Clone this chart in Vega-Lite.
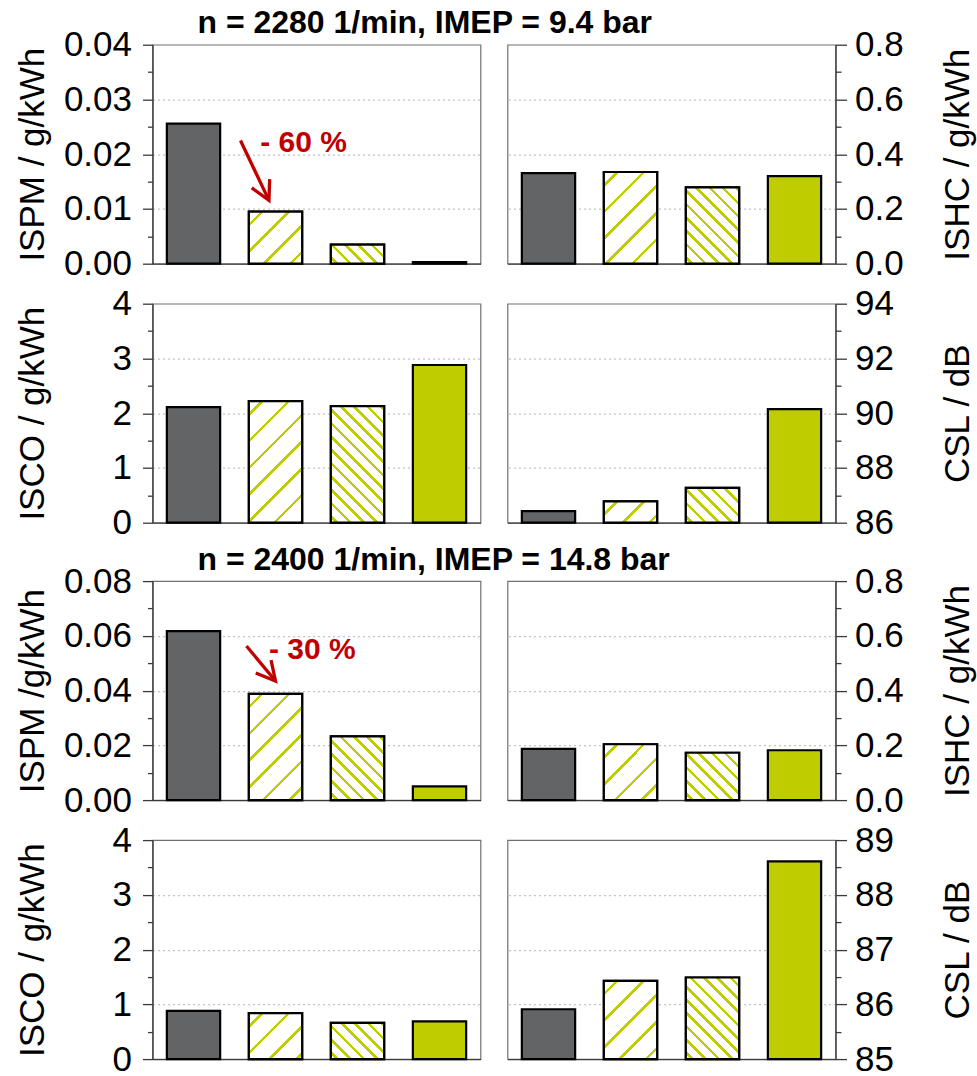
{
"$schema": "https://vega.github.io/schema/vega-lite/v6.json",
"background": "#ffffff",
"padding": {"left": 14.5, "top": 6.7, "right": 2, "bottom": 5},
"datasets": {
"bars": [
{"op":"2280","metric":"ISPM","variant":"A","value":0.0256},
{"op":"2280","metric":"ISPM","variant":"B","value":0.0095},
{"op":"2280","metric":"ISPM","variant":"C","value":0.0035},
{"op":"2280","metric":"ISPM","variant":"D","value":0.0003},
{"op":"2280","metric":"ISHC","variant":"A","value":0.331},
{"op":"2280","metric":"ISHC","variant":"B","value":0.335},
{"op":"2280","metric":"ISHC","variant":"C","value":0.279},
{"op":"2280","metric":"ISHC","variant":"D","value":0.320},
{"op":"2280","metric":"ISCO","variant":"A","value":2.11},
{"op":"2280","metric":"ISCO","variant":"B","value":2.22},
{"op":"2280","metric":"ISCO","variant":"C","value":2.13},
{"op":"2280","metric":"ISCO","variant":"D","value":2.88},
{"op":"2280","metric":"CSL","variant":"A","value":86.42},
{"op":"2280","metric":"CSL","variant":"B","value":86.78},
{"op":"2280","metric":"CSL","variant":"C","value":87.27},
{"op":"2280","metric":"CSL","variant":"D","value":90.15},
{"op":"2400","metric":"ISPM","variant":"A","value":0.0617},
{"op":"2400","metric":"ISPM","variant":"B","value":0.0388},
{"op":"2400","metric":"ISPM","variant":"C","value":0.0233},
{"op":"2400","metric":"ISPM","variant":"D","value":0.0050},
{"op":"2400","metric":"ISHC","variant":"A","value":0.187},
{"op":"2400","metric":"ISHC","variant":"B","value":0.204},
{"op":"2400","metric":"ISHC","variant":"C","value":0.173},
{"op":"2400","metric":"ISHC","variant":"D","value":0.182},
{"op":"2400","metric":"ISCO","variant":"A","value":0.88},
{"op":"2400","metric":"ISCO","variant":"B","value":0.84},
{"op":"2400","metric":"ISCO","variant":"C","value":0.66},
{"op":"2400","metric":"ISCO","variant":"D","value":0.69},
{"op":"2400","metric":"CSL","variant":"A","value":85.91},
{"op":"2400","metric":"CSL","variant":"B","value":86.43},
{"op":"2400","metric":"CSL","variant":"C","value":86.49},
{"op":"2400","metric":"CSL","variant":"D","value":88.61}
],
"notes": [
{"op":"2280","x0":1.073,"y0":0.0225,"x1":1.42,"y1":0.01156,"tx":1.313,"ty":0.0204,"label":"- 60 %"},
{"op":"2400","x0":1.146,"y0":0.0563,"x1":1.5,"y1":0.0435,"tx":1.42,"ty":0.0514,"label":"- 30 %"}
]
},
"data": {"name": "bars"},
"spacing": 1.4,
"vconcat": [
{
"spacing": 3,
"vconcat": [
{
"title": {"text": "n = 2280 1/min, IMEP = 9.4 bar", "anchor": "start", "frame": "group", "dx": 45, "offset": -38.4, "baseline": "alphabetic", "fontSize": 32, "fontWeight": "bold", "font": "Liberation Sans", "color": "#000"},
"spacing": 27,
"bounds": "flush",
"hconcat": [
{
"width": 328, "height": 219,
"resolve": {"scale": {"x": "independent"}, "axis": {"x": "independent", "y": "independent"}},
"layer": [
{
"transform": [{"filter": "datum.op=='2280' && datum.metric=='ISPM'"}],
"encoding": {
"x": {"field": "variant", "type": "nominal", "scale": {"domain": ["A","B","C","D"], "paddingInner": 0.35, "paddingOuter": 0.175}, "axis": {"labels": false, "ticks": false, "title": null, "grid": false}},
"y": {"field": "value", "type": "quantitative", "scale": {"domain": [0, 0.04], "nice": false}, "axis": {"orient": "left", "title": "ISPM / g/kWh", "values": [0,0.005,0.01,0.015,0.02,0.025,0.03,0.035,0.04], "labelExpr": "abs(datum.value/0.01-round(datum.value/0.01))<0.01 ? format(datum.value,'.2f') : ''", "tickSize": {"condition": {"test": "abs(datum.value/0.01-round(datum.value/0.01))<0.01", "value": 10}, "value": 5}, "gridOpacity": {"condition": {"test": "abs(datum.value/0.01-round(datum.value/0.01))<0.01 && datum.value>0.001 && datum.value<0.039", "value": 1}, "value": 0}, "labelPadding": 11, "titleX": -108.6, "titleY": 109.5, "titleBaseline": "alphabetic", "titleAlign": "center", "titleAngle": 270}}
},
"layer": [
{"mark": {"type": "bar", "stroke": "#000", "strokeWidth": 2.2}, "encoding": {"fill": {"field": "variant", "type": "nominal", "scale": {"domain": ["A","B","C","D"], "range": ["#636466","#ffffff","#ffffff","#bfcc00"]}, "legend": null}}},
{"transform": [{"filter": "datum.variant=='B'"}], "mark": {"type": "bar", "stroke": "#000", "strokeWidth": 2.2, "fill": {"gradient": "linear", "x1": 0, "y1": 0, "x2": 1.012, "y2": 0.9875, "stops": [
{"offset":0.109,"color":"#fff"},{"offset":0.109,"color":"#bfcc00"},{"offset":0.144,"color":"#bfcc00"},{"offset":0.144,"color":"#fff"},
{"offset":0.363,"color":"#fff"},{"offset":0.363,"color":"#bfcc00"},{"offset":0.398,"color":"#bfcc00"},{"offset":0.398,"color":"#fff"},
{"offset":0.617,"color":"#fff"},{"offset":0.617,"color":"#bfcc00"},{"offset":0.652,"color":"#bfcc00"},{"offset":0.652,"color":"#fff"},
{"offset":0.871,"color":"#fff"},{"offset":0.871,"color":"#bfcc00"},{"offset":0.906,"color":"#bfcc00"},{"offset":0.906,"color":"#fff"}]}}},
{"transform": [{"filter": "datum.variant=='C'"}], "mark": {"type": "bar", "stroke": "#000", "strokeWidth": 2.2, "fill": {"gradient": "linear", "x1": 0, "y1": 1, "x2": 1.204, "y2": 0.566, "stops": [
{"offset":0.066,"color":"#fff"},{"offset":0.066,"color":"#bfcc00"},{"offset":0.117,"color":"#bfcc00"},{"offset":0.117,"color":"#fff"},
{"offset":0.250,"color":"#fff"},{"offset":0.250,"color":"#bfcc00"},{"offset":0.300,"color":"#bfcc00"},{"offset":0.300,"color":"#fff"},
{"offset":0.433,"color":"#fff"},{"offset":0.433,"color":"#bfcc00"},{"offset":0.483,"color":"#bfcc00"},{"offset":0.483,"color":"#fff"},
{"offset":0.617,"color":"#fff"},{"offset":0.617,"color":"#bfcc00"},{"offset":0.667,"color":"#bfcc00"},{"offset":0.667,"color":"#fff"},
{"offset":0.800,"color":"#fff"},{"offset":0.800,"color":"#bfcc00"},{"offset":0.850,"color":"#bfcc00"},{"offset":0.850,"color":"#fff"},
{"offset":0.983,"color":"#fff"},{"offset":0.983,"color":"#bfcc00"},{"offset":1,"color":"#bfcc00"}]}}}
]
},
{
"data": {"name": "notes"},
"transform": [{"filter": "datum.op=='2280'"}],
"layer": [
{"mark": {"type": "rule", "color": "#c00000", "strokeWidth": 3.3}, "encoding": {"x": {"field": "x0", "type": "quantitative", "scale": {"domain": [0, 4], "nice": false}, "axis": null}, "x2": {"field": "x1"}, "y": {"field": "y0", "type": "quantitative", "scale": {"domain": [0, 0.04], "nice": false}, "axis": null}, "y2": {"field": "y1"}}},
{"mark": {"type": "point", "shape": "M -0.53 1 L 0 0 L 0.53 1", "filled": false, "color": "#c00000", "strokeWidth": 3.3, "size": 1414, "angle": 154, "opacity": 1, "strokeJoin": "miter"}, "encoding": {"x": {"field": "x1", "type": "quantitative", "scale": {"domain": [0, 4], "nice": false}, "axis": null}, "y": {"field": "y1", "type": "quantitative", "scale": {"domain": [0, 0.04], "nice": false}, "axis": null}}},
{"mark": {"type": "text", "color": "#c00000", "fontSize": 30, "fontWeight": "bold", "font": "Liberation Sans", "align": "left", "baseline": "alphabetic"}, "encoding": {"x": {"field": "tx", "type": "quantitative", "scale": {"domain": [0, 4], "nice": false}, "axis": null}, "y": {"field": "ty", "type": "quantitative", "scale": {"domain": [0, 0.04], "nice": false}, "axis": null}, "text": {"field": "label"}}}
]
}
]
},
{
"width": 328, "height": 219,
"transform": [{"filter": "datum.op=='2280' && datum.metric=='ISHC'"}],
"encoding": {
"x": {"field": "variant", "type": "nominal", "scale": {"domain": ["A","B","C","D"], "paddingInner": 0.35, "paddingOuter": 0.175}, "axis": {"labels": false, "ticks": false, "title": null, "grid": false}},
"y": {"field": "value", "type": "quantitative", "scale": {"domain": [0, 0.8], "nice": false}, "axis": {"orient": "right", "title": "ISHC / g/kWh", "values": [0,0.1,0.2,0.3,0.4,0.5,0.6,0.7,0.8], "labelExpr": "abs(datum.value/0.2-round(datum.value/0.2))<0.01 ? format(datum.value,'.1f') : ''", "tickSize": {"condition": {"test": "abs(datum.value/0.2-round(datum.value/0.2))<0.01", "value": 11}, "value": 5.5}, "gridOpacity": {"condition": {"test": "abs(datum.value/0.2-round(datum.value/0.2))<0.01 && datum.value>0.05 && datum.value<0.75", "value": 1}, "value": 0}, "labelPadding": 8, "titleX": 132.7, "titleY": 109.5, "titleBaseline": "alphabetic", "titleAlign": "center", "titleAngle": 270}}
},
"layer": [
{"mark": {"type": "bar", "stroke": "#000", "strokeWidth": 2.2}, "encoding": {"fill": {"field": "variant", "type": "nominal", "scale": {"domain": ["A","B","C","D"], "range": ["#636466","#ffffff","#ffffff","#bfcc00"]}, "legend": null}}},
{"transform": [{"filter": "datum.variant=='B'"}], "mark": {"type": "bar", "stroke": "#000", "strokeWidth": 2.2, "fill": {"gradient": "linear", "x1": 0, "y1": 0, "x2": 0.687, "y2": 1.182, "stops": [
{"offset":0.079,"color":"#fff"},{"offset":0.079,"color":"#bfcc00"},{"offset":0.105,"color":"#bfcc00"},{"offset":0.105,"color":"#fff"},
{"offset":0.264,"color":"#fff"},{"offset":0.264,"color":"#bfcc00"},{"offset":0.289,"color":"#bfcc00"},{"offset":0.289,"color":"#fff"},
{"offset":0.448,"color":"#fff"},{"offset":0.448,"color":"#bfcc00"},{"offset":0.473,"color":"#bfcc00"},{"offset":0.473,"color":"#fff"},
{"offset":0.632,"color":"#fff"},{"offset":0.632,"color":"#bfcc00"},{"offset":0.658,"color":"#bfcc00"},{"offset":0.658,"color":"#fff"},
{"offset":0.817,"color":"#fff"},{"offset":0.817,"color":"#bfcc00"},{"offset":0.842,"color":"#bfcc00"},{"offset":0.842,"color":"#fff"}]}}},
{"transform": [{"filter": "datum.variant=='C'"}], "mark": {"type": "bar", "stroke": "#000", "strokeWidth": 2.2, "fill": {"gradient": "linear", "x1": 0, "y1": 1, "x2": 0.797, "y2": -0.142, "stops": [
{"offset":0.037,"color":"#fff"},{"offset":0.037,"color":"#bfcc00"},{"offset":0.065,"color":"#bfcc00"},{"offset":0.065,"color":"#fff"},
{"offset":0.140,"color":"#fff"},{"offset":0.140,"color":"#bfcc00"},{"offset":0.168,"color":"#bfcc00"},{"offset":0.168,"color":"#fff"},
{"offset":0.242,"color":"#fff"},{"offset":0.242,"color":"#bfcc00"},{"offset":0.270,"color":"#bfcc00"},{"offset":0.270,"color":"#fff"},
{"offset":0.345,"color":"#fff"},{"offset":0.345,"color":"#bfcc00"},{"offset":0.373,"color":"#bfcc00"},{"offset":0.373,"color":"#fff"},
{"offset":0.447,"color":"#fff"},{"offset":0.447,"color":"#bfcc00"},{"offset":0.475,"color":"#bfcc00"},{"offset":0.475,"color":"#fff"},
{"offset":0.550,"color":"#fff"},{"offset":0.550,"color":"#bfcc00"},{"offset":0.578,"color":"#bfcc00"},{"offset":0.578,"color":"#fff"},
{"offset":0.652,"color":"#fff"},{"offset":0.652,"color":"#bfcc00"},{"offset":0.680,"color":"#bfcc00"},{"offset":0.680,"color":"#fff"},
{"offset":0.755,"color":"#fff"},{"offset":0.755,"color":"#bfcc00"},{"offset":0.783,"color":"#bfcc00"},{"offset":0.783,"color":"#fff"},
{"offset":0.857,"color":"#fff"},{"offset":0.857,"color":"#bfcc00"},{"offset":0.885,"color":"#bfcc00"},{"offset":0.885,"color":"#fff"},
{"offset":0.960,"color":"#fff"},{"offset":0.960,"color":"#bfcc00"},{"offset":0.988,"color":"#bfcc00"},{"offset":0.988,"color":"#fff"}]}}}
]
}
]
},
{
"spacing": 27,
"bounds": "flush",
"hconcat": [
{
"width": 328, "height": 219,
"transform": [{"filter": "datum.op=='2280' && datum.metric=='ISCO'"}],
"encoding": {
"x": {"field": "variant", "type": "nominal", "scale": {"domain": ["A","B","C","D"], "paddingInner": 0.35, "paddingOuter": 0.175}, "axis": {"labels": false, "ticks": false, "title": null, "grid": false}},
"y": {"field": "value", "type": "quantitative", "scale": {"domain": [0, 4], "nice": false}, "axis": {"orient": "left", "title": "ISCO / g/kWh", "values": [0,0.5,1,1.5,2,2.5,3,3.5,4], "labelExpr": "abs(datum.value-round(datum.value))<0.01 ? format(datum.value,'.0f') : ''", "tickSize": {"condition": {"test": "abs(datum.value-round(datum.value))<0.01", "value": 10}, "value": 5}, "gridOpacity": {"condition": {"test": "abs(datum.value-round(datum.value))<0.01 && datum.value>0.1 && datum.value<3.9", "value": 1}, "value": 0}, "labelPadding": 11, "titleX": -108.6, "titleY": 109.5, "titleBaseline": "alphabetic", "titleAlign": "center", "titleAngle": 270}}
},
"layer": [
{"mark": {"type": "bar", "stroke": "#000", "strokeWidth": 2.2}, "encoding": {"fill": {"field": "variant", "type": "nominal", "scale": {"domain": ["A","B","C","D"], "range": ["#636466","#ffffff","#ffffff","#bfcc00"]}, "legend": null}}},
{"transform": [{"filter": "datum.variant=='B'"}], "mark": {"type": "bar", "stroke": "#000", "strokeWidth": 2.2, "fill": {"gradient": "linear", "x1": 0, "y1": 0, "x2": 0.529, "y2": 1.2065, "stops": [
{"offset":0.066,"color":"#fff"},{"offset":0.066,"color":"#bfcc00"},{"offset":0.087,"color":"#bfcc00"},{"offset":0.087,"color":"#fff"},
{"offset":0.219,"color":"#fff"},{"offset":0.219,"color":"#bfcc00"},{"offset":0.240,"color":"#bfcc00"},{"offset":0.240,"color":"#fff"},
{"offset":0.372,"color":"#fff"},{"offset":0.372,"color":"#bfcc00"},{"offset":0.393,"color":"#bfcc00"},{"offset":0.393,"color":"#fff"},
{"offset":0.525,"color":"#fff"},{"offset":0.525,"color":"#bfcc00"},{"offset":0.546,"color":"#bfcc00"},{"offset":0.546,"color":"#fff"},
{"offset":0.678,"color":"#fff"},{"offset":0.678,"color":"#bfcc00"},{"offset":0.699,"color":"#bfcc00"},{"offset":0.699,"color":"#fff"},
{"offset":0.830,"color":"#fff"},{"offset":0.830,"color":"#bfcc00"},{"offset":0.851,"color":"#bfcc00"},{"offset":0.851,"color":"#fff"},
{"offset":0.983,"color":"#fff"},{"offset":0.983,"color":"#bfcc00"},{"offset":1,"color":"#bfcc00"}]}}},
{"transform": [{"filter": "datum.variant=='C'"}], "mark": {"type": "bar", "stroke": "#000", "strokeWidth": 2.2, "fill": {"gradient": "linear", "x1": 0, "y1": 1, "x2": 0.551, "y2": -0.2052, "stops": [
{"offset":0.028,"color":"#fff"},{"offset":0.028,"color":"#bfcc00"},{"offset":0.050,"color":"#bfcc00"},{"offset":0.050,"color":"#fff"},
{"offset":0.107,"color":"#fff"},{"offset":0.107,"color":"#bfcc00"},{"offset":0.128,"color":"#bfcc00"},{"offset":0.128,"color":"#fff"},
{"offset":0.185,"color":"#fff"},{"offset":0.185,"color":"#bfcc00"},{"offset":0.206,"color":"#bfcc00"},{"offset":0.206,"color":"#fff"},
{"offset":0.263,"color":"#fff"},{"offset":0.263,"color":"#bfcc00"},{"offset":0.285,"color":"#bfcc00"},{"offset":0.285,"color":"#fff"},
{"offset":0.341,"color":"#fff"},{"offset":0.341,"color":"#bfcc00"},{"offset":0.363,"color":"#bfcc00"},{"offset":0.363,"color":"#fff"},
{"offset":0.420,"color":"#fff"},{"offset":0.420,"color":"#bfcc00"},{"offset":0.441,"color":"#bfcc00"},{"offset":0.441,"color":"#fff"},
{"offset":0.498,"color":"#fff"},{"offset":0.498,"color":"#bfcc00"},{"offset":0.519,"color":"#bfcc00"},{"offset":0.519,"color":"#fff"},
{"offset":0.576,"color":"#fff"},{"offset":0.576,"color":"#bfcc00"},{"offset":0.598,"color":"#bfcc00"},{"offset":0.598,"color":"#fff"},
{"offset":0.654,"color":"#fff"},{"offset":0.654,"color":"#bfcc00"},{"offset":0.676,"color":"#bfcc00"},{"offset":0.676,"color":"#fff"},
{"offset":0.732,"color":"#fff"},{"offset":0.732,"color":"#bfcc00"},{"offset":0.754,"color":"#bfcc00"},{"offset":0.754,"color":"#fff"},
{"offset":0.811,"color":"#fff"},{"offset":0.811,"color":"#bfcc00"},{"offset":0.832,"color":"#bfcc00"},{"offset":0.832,"color":"#fff"},
{"offset":0.889,"color":"#fff"},{"offset":0.889,"color":"#bfcc00"},{"offset":0.911,"color":"#bfcc00"},{"offset":0.911,"color":"#fff"},
{"offset":0.967,"color":"#fff"},{"offset":0.967,"color":"#bfcc00"},{"offset":0.989,"color":"#bfcc00"},{"offset":0.989,"color":"#fff"}]}}}
]
},
{
"width": 328, "height": 219,
"transform": [{"filter": "datum.op=='2280' && datum.metric=='CSL'"}],
"encoding": {
"x": {"field": "variant", "type": "nominal", "scale": {"domain": ["A","B","C","D"], "paddingInner": 0.35, "paddingOuter": 0.175}, "axis": {"labels": false, "ticks": false, "title": null, "grid": false}},
"y": {"field": "value", "type": "quantitative", "scale": {"domain": [86, 94], "nice": false, "zero": false}, "axis": {"orient": "right", "title": "CSL / dB", "values": [86,87,88,89,90,91,92,93,94], "labelExpr": "abs(datum.value/2-round(datum.value/2))<0.01 ? format(datum.value,'.0f') : ''", "tickSize": {"condition": {"test": "abs(datum.value/2-round(datum.value/2))<0.01", "value": 11}, "value": 5.5}, "gridOpacity": {"condition": {"test": "abs(datum.value/2-round(datum.value/2))<0.01 && datum.value>86.5 && datum.value<93.5", "value": 1}, "value": 0}, "labelPadding": 8, "titleX": 132.7, "titleY": 109.5, "titleBaseline": "alphabetic", "titleAlign": "center", "titleAngle": 270}},
"y2": {"datum": 86}
},
"layer": [
{"mark": {"type": "bar", "stroke": "#000", "strokeWidth": 2.2}, "encoding": {"fill": {"field": "variant", "type": "nominal", "scale": {"domain": ["A","B","C","D"], "range": ["#636466","#ffffff","#ffffff","#bfcc00"]}, "legend": null}}},
{"transform": [{"filter": "datum.variant=='B'"}], "mark": {"type": "bar", "stroke": "#000", "strokeWidth": 2.2, "fill": {"gradient": "linear", "x1": 0, "y1": 0, "x2": 1.207, "y2": 0.4846, "stops": [
{"offset":0.154,"color":"#fff"},{"offset":0.154,"color":"#bfcc00"},{"offset":0.204,"color":"#bfcc00"},{"offset":0.204,"color":"#fff"},
{"offset":0.512,"color":"#fff"},{"offset":0.512,"color":"#bfcc00"},{"offset":0.561,"color":"#bfcc00"},{"offset":0.561,"color":"#fff"},
{"offset":0.870,"color":"#fff"},{"offset":0.870,"color":"#bfcc00"},{"offset":0.919,"color":"#bfcc00"},{"offset":0.919,"color":"#fff"}]}}},
{"transform": [{"filter": "datum.variant=='C'"}], "mark": {"type": "bar", "stroke": "#000", "strokeWidth": 2.2, "fill": {"gradient": "linear", "x1": 0, "y1": 1, "x2": 1.159, "y2": 0.2433, "stops": [
{"offset":0.055,"color":"#fff"},{"offset":0.055,"color":"#bfcc00"},{"offset":0.096,"color":"#bfcc00"},{"offset":0.096,"color":"#fff"},
{"offset":0.205,"color":"#fff"},{"offset":0.205,"color":"#bfcc00"},{"offset":0.247,"color":"#bfcc00"},{"offset":0.247,"color":"#fff"},
{"offset":0.356,"color":"#fff"},{"offset":0.356,"color":"#bfcc00"},{"offset":0.398,"color":"#bfcc00"},{"offset":0.398,"color":"#fff"},
{"offset":0.507,"color":"#fff"},{"offset":0.507,"color":"#bfcc00"},{"offset":0.549,"color":"#bfcc00"},{"offset":0.549,"color":"#fff"},
{"offset":0.658,"color":"#fff"},{"offset":0.658,"color":"#bfcc00"},{"offset":0.700,"color":"#bfcc00"},{"offset":0.700,"color":"#fff"},
{"offset":0.809,"color":"#fff"},{"offset":0.809,"color":"#bfcc00"},{"offset":0.851,"color":"#bfcc00"},{"offset":0.851,"color":"#fff"},
{"offset":0.960,"color":"#fff"},{"offset":0.960,"color":"#bfcc00"},{"offset":1,"color":"#bfcc00"}]}}}
]
}
]
}
]
},
{
"spacing": 3,
"vconcat": [
{
"title": {"text": "n = 2400 1/min, IMEP = 14.8 bar", "anchor": "start", "frame": "group", "dx": 45, "offset": -38.4, "baseline": "alphabetic", "fontSize": 32, "fontWeight": "bold", "font": "Liberation Sans", "color": "#000"},
"spacing": 27,
"bounds": "flush",
"hconcat": [
{
"width": 328, "height": 219,
"resolve": {"scale": {"x": "independent"}, "axis": {"x": "independent", "y": "independent"}},
"layer": [
{
"transform": [{"filter": "datum.op=='2400' && datum.metric=='ISPM'"}],
"encoding": {
"x": {"field": "variant", "type": "nominal", "scale": {"domain": ["A","B","C","D"], "paddingInner": 0.35, "paddingOuter": 0.175}, "axis": {"labels": false, "ticks": false, "title": null, "grid": false}},
"y": {"field": "value", "type": "quantitative", "scale": {"domain": [0, 0.08], "nice": false}, "axis": {"orient": "left", "title": "ISPM /g/kWh", "values": [0,0.01,0.02,0.03,0.04,0.05,0.06,0.07,0.08], "labelExpr": "abs(datum.value/0.02-round(datum.value/0.02))<0.01 ? format(datum.value,'.2f') : ''", "tickSize": {"condition": {"test": "abs(datum.value/0.02-round(datum.value/0.02))<0.01", "value": 10}, "value": 5}, "gridOpacity": {"condition": {"test": "abs(datum.value/0.02-round(datum.value/0.02))<0.01 && datum.value>0.005 && datum.value<0.075", "value": 1}, "value": 0}, "labelPadding": 11, "titleX": -108.6, "titleY": 109.5, "titleBaseline": "alphabetic", "titleAlign": "center", "titleAngle": 270}}
},
"layer": [
{"mark": {"type": "bar", "stroke": "#000", "strokeWidth": 2.2}, "encoding": {"fill": {"field": "variant", "type": "nominal", "scale": {"domain": ["A","B","C","D"], "range": ["#636466","#ffffff","#ffffff","#bfcc00"]}, "legend": null}}},
{"transform": [{"filter": "datum.variant=='B'"}], "mark": {"type": "bar", "stroke": "#000", "strokeWidth": 2.2, "fill": {"gradient": "linear", "x1": 0, "y1": 0, "x2": 0.602, "y2": 1.1997, "stops": [
{"offset":0.072,"color":"#fff"},{"offset":0.072,"color":"#bfcc00"},{"offset":0.095,"color":"#bfcc00"},{"offset":0.095,"color":"#fff"},
{"offset":0.240,"color":"#fff"},{"offset":0.240,"color":"#bfcc00"},{"offset":0.263,"color":"#bfcc00"},{"offset":0.263,"color":"#fff"},
{"offset":0.407,"color":"#fff"},{"offset":0.407,"color":"#bfcc00"},{"offset":0.430,"color":"#bfcc00"},{"offset":0.430,"color":"#fff"},
{"offset":0.575,"color":"#fff"},{"offset":0.575,"color":"#bfcc00"},{"offset":0.598,"color":"#bfcc00"},{"offset":0.598,"color":"#fff"},
{"offset":0.743,"color":"#fff"},{"offset":0.743,"color":"#bfcc00"},{"offset":0.766,"color":"#bfcc00"},{"offset":0.766,"color":"#fff"},
{"offset":0.910,"color":"#fff"},{"offset":0.910,"color":"#bfcc00"},{"offset":0.933,"color":"#bfcc00"},{"offset":0.933,"color":"#fff"}]}}},
{"transform": [{"filter": "datum.variant=='C'"}], "mark": {"type": "bar", "stroke": "#000", "strokeWidth": 2.2, "fill": {"gradient": "linear", "x1": 0, "y1": 1, "x2": 0.903, "y2": -0.081, "stops": [
{"offset":0.041,"color":"#fff"},{"offset":0.041,"color":"#bfcc00"},{"offset":0.072,"color":"#bfcc00"},{"offset":0.072,"color":"#fff"},
{"offset":0.155,"color":"#fff"},{"offset":0.155,"color":"#bfcc00"},{"offset":0.186,"color":"#bfcc00"},{"offset":0.186,"color":"#fff"},
{"offset":0.268,"color":"#fff"},{"offset":0.268,"color":"#bfcc00"},{"offset":0.300,"color":"#bfcc00"},{"offset":0.300,"color":"#fff"},
{"offset":0.382,"color":"#fff"},{"offset":0.382,"color":"#bfcc00"},{"offset":0.413,"color":"#bfcc00"},{"offset":0.413,"color":"#fff"},
{"offset":0.495,"color":"#fff"},{"offset":0.495,"color":"#bfcc00"},{"offset":0.527,"color":"#bfcc00"},{"offset":0.527,"color":"#fff"},
{"offset":0.609,"color":"#fff"},{"offset":0.609,"color":"#bfcc00"},{"offset":0.640,"color":"#bfcc00"},{"offset":0.640,"color":"#fff"},
{"offset":0.722,"color":"#fff"},{"offset":0.722,"color":"#bfcc00"},{"offset":0.754,"color":"#bfcc00"},{"offset":0.754,"color":"#fff"},
{"offset":0.836,"color":"#fff"},{"offset":0.836,"color":"#bfcc00"},{"offset":0.867,"color":"#bfcc00"},{"offset":0.867,"color":"#fff"},
{"offset":0.949,"color":"#fff"},{"offset":0.949,"color":"#bfcc00"},{"offset":0.981,"color":"#bfcc00"},{"offset":0.981,"color":"#fff"}]}}}
]
},
{
"data": {"name": "notes"},
"transform": [{"filter": "datum.op=='2400'"}],
"layer": [
{"mark": {"type": "rule", "color": "#c00000", "strokeWidth": 3.3}, "encoding": {"x": {"field": "x0", "type": "quantitative", "scale": {"domain": [0, 4], "nice": false}, "axis": null}, "x2": {"field": "x1"}, "y": {"field": "y0", "type": "quantitative", "scale": {"domain": [0, 0.08], "nice": false}, "axis": null}, "y2": {"field": "y1"}}},
{"mark": {"type": "point", "shape": "M -0.53 1 L 0 0 L 0.53 1", "filled": false, "color": "#c00000", "strokeWidth": 3.3, "size": 1414, "angle": 140, "opacity": 1, "strokeJoin": "miter"}, "encoding": {"x": {"field": "x1", "type": "quantitative", "scale": {"domain": [0, 4], "nice": false}, "axis": null}, "y": {"field": "y1", "type": "quantitative", "scale": {"domain": [0, 0.08], "nice": false}, "axis": null}}},
{"mark": {"type": "text", "color": "#c00000", "fontSize": 30, "fontWeight": "bold", "font": "Liberation Sans", "align": "left", "baseline": "alphabetic"}, "encoding": {"x": {"field": "tx", "type": "quantitative", "scale": {"domain": [0, 4], "nice": false}, "axis": null}, "y": {"field": "ty", "type": "quantitative", "scale": {"domain": [0, 0.08], "nice": false}, "axis": null}, "text": {"field": "label"}}}
]
}
]
},
{
"width": 328, "height": 219,
"transform": [{"filter": "datum.op=='2400' && datum.metric=='ISHC'"}],
"encoding": {
"x": {"field": "variant", "type": "nominal", "scale": {"domain": ["A","B","C","D"], "paddingInner": 0.35, "paddingOuter": 0.175}, "axis": {"labels": false, "ticks": false, "title": null, "grid": false}},
"y": {"field": "value", "type": "quantitative", "scale": {"domain": [0, 0.8], "nice": false}, "axis": {"orient": "right", "title": "ISHC / g/kWh", "values": [0,0.1,0.2,0.3,0.4,0.5,0.6,0.7,0.8], "labelExpr": "abs(datum.value/0.2-round(datum.value/0.2))<0.01 ? format(datum.value,'.1f') : ''", "tickSize": {"condition": {"test": "abs(datum.value/0.2-round(datum.value/0.2))<0.01", "value": 11}, "value": 5.5}, "gridOpacity": {"condition": {"test": "abs(datum.value/0.2-round(datum.value/0.2))<0.01 && datum.value>0.05 && datum.value<0.75", "value": 1}, "value": 0}, "labelPadding": 8, "titleX": 132.7, "titleY": 109.5, "titleBaseline": "alphabetic", "titleAlign": "center", "titleAngle": 270}}
},
"layer": [
{"mark": {"type": "bar", "stroke": "#000", "strokeWidth": 2.2}, "encoding": {"fill": {"field": "variant", "type": "nominal", "scale": {"domain": ["A","B","C","D"], "range": ["#636466","#ffffff","#ffffff","#bfcc00"]}, "legend": null}}},
{"transform": [{"filter": "datum.variant=='B'"}], "mark": {"type": "bar", "stroke": "#000", "strokeWidth": 2.2, "fill": {"gradient": "linear", "x1": 0, "y1": 0, "x2": 0.977, "y2": 1.0224, "stops": [
{"offset":0.106,"color":"#fff"},{"offset":0.106,"color":"#bfcc00"},{"offset":0.139,"color":"#bfcc00"},{"offset":0.139,"color":"#fff"},
{"offset":0.351,"color":"#fff"},{"offset":0.351,"color":"#bfcc00"},{"offset":0.384,"color":"#bfcc00"},{"offset":0.384,"color":"#fff"},
{"offset":0.596,"color":"#fff"},{"offset":0.596,"color":"#bfcc00"},{"offset":0.629,"color":"#bfcc00"},{"offset":0.629,"color":"#fff"},
{"offset":0.841,"color":"#fff"},{"offset":0.841,"color":"#bfcc00"},{"offset":0.874,"color":"#bfcc00"},{"offset":0.874,"color":"#fff"}]}}},
{"transform": [{"filter": "datum.variant=='C'"}], "mark": {"type": "bar", "stroke": "#000", "strokeWidth": 2.2, "fill": {"gradient": "linear", "x1": 0, "y1": 1, "x2": 1.055, "y2": 0.0618, "stops": [
{"offset":0.048,"color":"#fff"},{"offset":0.048,"color":"#bfcc00"},{"offset":0.084,"color":"#bfcc00"},{"offset":0.084,"color":"#fff"},
{"offset":0.180,"color":"#fff"},{"offset":0.180,"color":"#bfcc00"},{"offset":0.216,"color":"#bfcc00"},{"offset":0.216,"color":"#fff"},
{"offset":0.312,"color":"#fff"},{"offset":0.312,"color":"#bfcc00"},{"offset":0.348,"color":"#bfcc00"},{"offset":0.348,"color":"#fff"},
{"offset":0.444,"color":"#fff"},{"offset":0.444,"color":"#bfcc00"},{"offset":0.480,"color":"#bfcc00"},{"offset":0.480,"color":"#fff"},
{"offset":0.576,"color":"#fff"},{"offset":0.576,"color":"#bfcc00"},{"offset":0.612,"color":"#bfcc00"},{"offset":0.612,"color":"#fff"},
{"offset":0.708,"color":"#fff"},{"offset":0.708,"color":"#bfcc00"},{"offset":0.744,"color":"#bfcc00"},{"offset":0.744,"color":"#fff"},
{"offset":0.840,"color":"#fff"},{"offset":0.840,"color":"#bfcc00"},{"offset":0.876,"color":"#bfcc00"},{"offset":0.876,"color":"#fff"},
{"offset":0.972,"color":"#fff"},{"offset":0.972,"color":"#bfcc00"},{"offset":1,"color":"#bfcc00"}]}}}
]
}
]
},
{
"spacing": 27,
"bounds": "flush",
"hconcat": [
{
"width": 328, "height": 219,
"transform": [{"filter": "datum.op=='2400' && datum.metric=='ISCO'"}],
"encoding": {
"x": {"field": "variant", "type": "nominal", "scale": {"domain": ["A","B","C","D"], "paddingInner": 0.35, "paddingOuter": 0.175}, "axis": {"labels": false, "ticks": false, "title": null, "grid": false}},
"y": {"field": "value", "type": "quantitative", "scale": {"domain": [0, 4], "nice": false}, "axis": {"orient": "left", "title": "ISCO / g/kWh", "values": [0,0.5,1,1.5,2,2.5,3,3.5,4], "labelExpr": "abs(datum.value-round(datum.value))<0.01 ? format(datum.value,'.0f') : ''", "tickSize": {"condition": {"test": "abs(datum.value-round(datum.value))<0.01", "value": 10}, "value": 5}, "gridOpacity": {"condition": {"test": "abs(datum.value-round(datum.value))<0.01 && datum.value>0.1 && datum.value<3.9", "value": 1}, "value": 0}, "labelPadding": 11, "titleX": -108.6, "titleY": 109.5, "titleBaseline": "alphabetic", "titleAlign": "center", "titleAngle": 270}}
},
"layer": [
{"mark": {"type": "bar", "stroke": "#000", "strokeWidth": 2.2}, "encoding": {"fill": {"field": "variant", "type": "nominal", "scale": {"domain": ["A","B","C","D"], "range": ["#636466","#ffffff","#ffffff","#bfcc00"]}, "legend": null}}},
{"transform": [{"filter": "datum.variant=='B'"}], "mark": {"type": "bar", "stroke": "#000", "strokeWidth": 2.2, "fill": {"gradient": "linear", "x1": 0, "y1": 0, "x2": 1.068, "y2": 0.9215, "stops": [
{"offset":0.116,"color":"#fff"},{"offset":0.116,"color":"#bfcc00"},{"offset":0.153,"color":"#bfcc00"},{"offset":0.153,"color":"#fff"},
{"offset":0.385,"color":"#fff"},{"offset":0.385,"color":"#bfcc00"},{"offset":0.422,"color":"#bfcc00"},{"offset":0.422,"color":"#fff"},
{"offset":0.654,"color":"#fff"},{"offset":0.654,"color":"#bfcc00"},{"offset":0.691,"color":"#bfcc00"},{"offset":0.691,"color":"#fff"},
{"offset":0.924,"color":"#fff"},{"offset":0.924,"color":"#bfcc00"},{"offset":0.961,"color":"#bfcc00"},{"offset":0.961,"color":"#fff"}]}}},
{"transform": [{"filter": "datum.variant=='C'"}], "mark": {"type": "bar", "stroke": "#000", "strokeWidth": 2.2, "fill": {"gradient": "linear", "x1": 0, "y1": 1, "x2": 1.150, "y2": 0.2212, "stops": [
{"offset":0.054,"color":"#fff"},{"offset":0.054,"color":"#bfcc00"},{"offset":0.095,"color":"#bfcc00"},{"offset":0.095,"color":"#fff"},
{"offset":0.202,"color":"#fff"},{"offset":0.202,"color":"#bfcc00"},{"offset":0.244,"color":"#bfcc00"},{"offset":0.244,"color":"#fff"},
{"offset":0.351,"color":"#fff"},{"offset":0.351,"color":"#bfcc00"},{"offset":0.392,"color":"#bfcc00"},{"offset":0.392,"color":"#fff"},
{"offset":0.500,"color":"#fff"},{"offset":0.500,"color":"#bfcc00"},{"offset":0.541,"color":"#bfcc00"},{"offset":0.541,"color":"#fff"},
{"offset":0.649,"color":"#fff"},{"offset":0.649,"color":"#bfcc00"},{"offset":0.690,"color":"#bfcc00"},{"offset":0.690,"color":"#fff"},
{"offset":0.797,"color":"#fff"},{"offset":0.797,"color":"#bfcc00"},{"offset":0.838,"color":"#bfcc00"},{"offset":0.838,"color":"#fff"},
{"offset":0.946,"color":"#fff"},{"offset":0.946,"color":"#bfcc00"},{"offset":0.987,"color":"#bfcc00"},{"offset":0.987,"color":"#fff"}]}}}
]
},
{
"width": 328, "height": 219,
"transform": [{"filter": "datum.op=='2400' && datum.metric=='CSL'"}],
"encoding": {
"x": {"field": "variant", "type": "nominal", "scale": {"domain": ["A","B","C","D"], "paddingInner": 0.35, "paddingOuter": 0.175}, "axis": {"labels": false, "ticks": false, "title": null, "grid": false}},
"y": {"field": "value", "type": "quantitative", "scale": {"domain": [85, 89], "nice": false, "zero": false}, "axis": {"orient": "right", "title": "CSL / dB", "values": [85,85.5,86,86.5,87,87.5,88,88.5,89], "labelExpr": "abs(datum.value-round(datum.value))<0.01 ? format(datum.value,'.0f') : ''", "tickSize": {"condition": {"test": "abs(datum.value-round(datum.value))<0.01", "value": 11}, "value": 5.5}, "gridOpacity": {"condition": {"test": "abs(datum.value-round(datum.value))<0.01 && datum.value>85.2 && datum.value<88.8", "value": 1}, "value": 0}, "labelPadding": 8, "titleX": 132.7, "titleY": 109.5, "titleBaseline": "alphabetic", "titleAlign": "center", "titleAngle": 270}},
"y2": {"datum": 85}
},
"layer": [
{"mark": {"type": "bar", "stroke": "#000", "strokeWidth": 2.2}, "encoding": {"fill": {"field": "variant", "type": "nominal", "scale": {"domain": ["A","B","C","D"], "range": ["#636466","#ffffff","#ffffff","#bfcc00"]}, "legend": null}}},
{"transform": [{"filter": "datum.variant=='B'"}], "mark": {"type": "bar", "stroke": "#000", "strokeWidth": 2.2, "fill": {"gradient": "linear", "x1": 0, "y1": 0, "x2": 0.782, "y2": 1.1485, "stops": [
{"offset":0.088,"color":"#fff"},{"offset":0.088,"color":"#bfcc00"},{"offset":0.115,"color":"#bfcc00"},{"offset":0.115,"color":"#fff"},
{"offset":0.291,"color":"#fff"},{"offset":0.291,"color":"#bfcc00"},{"offset":0.319,"color":"#bfcc00"},{"offset":0.319,"color":"#fff"},
{"offset":0.494,"color":"#fff"},{"offset":0.494,"color":"#bfcc00"},{"offset":0.522,"color":"#bfcc00"},{"offset":0.522,"color":"#fff"},
{"offset":0.697,"color":"#fff"},{"offset":0.697,"color":"#bfcc00"},{"offset":0.725,"color":"#bfcc00"},{"offset":0.725,"color":"#fff"},
{"offset":0.900,"color":"#fff"},{"offset":0.900,"color":"#bfcc00"},{"offset":0.928,"color":"#bfcc00"},{"offset":0.928,"color":"#fff"}]}}},
{"transform": [{"filter": "datum.variant=='C'"}], "mark": {"type": "bar", "stroke": "#000", "strokeWidth": 2.2, "fill": {"gradient": "linear", "x1": 0, "y1": 1, "x2": 0.757, "y2": -0.1588, "stops": [
{"offset":0.036,"color":"#fff"},{"offset":0.036,"color":"#bfcc00"},{"offset":0.063,"color":"#bfcc00"},{"offset":0.063,"color":"#fff"},
{"offset":0.134,"color":"#fff"},{"offset":0.134,"color":"#bfcc00"},{"offset":0.161,"color":"#bfcc00"},{"offset":0.161,"color":"#fff"},
{"offset":0.233,"color":"#fff"},{"offset":0.233,"color":"#bfcc00"},{"offset":0.260,"color":"#bfcc00"},{"offset":0.260,"color":"#fff"},
{"offset":0.331,"color":"#fff"},{"offset":0.331,"color":"#bfcc00"},{"offset":0.358,"color":"#bfcc00"},{"offset":0.358,"color":"#fff"},
{"offset":0.430,"color":"#fff"},{"offset":0.430,"color":"#bfcc00"},{"offset":0.457,"color":"#bfcc00"},{"offset":0.457,"color":"#fff"},
{"offset":0.528,"color":"#fff"},{"offset":0.528,"color":"#bfcc00"},{"offset":0.556,"color":"#bfcc00"},{"offset":0.556,"color":"#fff"},
{"offset":0.627,"color":"#fff"},{"offset":0.627,"color":"#bfcc00"},{"offset":0.654,"color":"#bfcc00"},{"offset":0.654,"color":"#fff"},
{"offset":0.725,"color":"#fff"},{"offset":0.725,"color":"#bfcc00"},{"offset":0.753,"color":"#bfcc00"},{"offset":0.753,"color":"#fff"},
{"offset":0.824,"color":"#fff"},{"offset":0.824,"color":"#bfcc00"},{"offset":0.851,"color":"#bfcc00"},{"offset":0.851,"color":"#fff"},
{"offset":0.923,"color":"#fff"},{"offset":0.923,"color":"#bfcc00"},{"offset":0.950,"color":"#bfcc00"},{"offset":0.950,"color":"#fff"}]}}}
]
}
]
}
]
}
],
"config": {
"font": "Liberation Sans",
"view": {"stroke": "#707070", "strokeWidth": 1.2},
"axis": {"labelFont": "Liberation Sans", "titleFont": "Liberation Sans", "labelFontSize": 35, "titleFontSize": 35, "titleFontWeight": "normal", "labelColor": "#000", "titleColor": "#000", "tickColor": "#3a3a3a", "tickWidth": 1.3, "domainColor": "#3a3a3a", "domainWidth": 1.3, "gridColor": "#c4c4c4", "gridDash": [2, 3], "gridWidth": 1.2, "labelOverlap": false}
}
}
